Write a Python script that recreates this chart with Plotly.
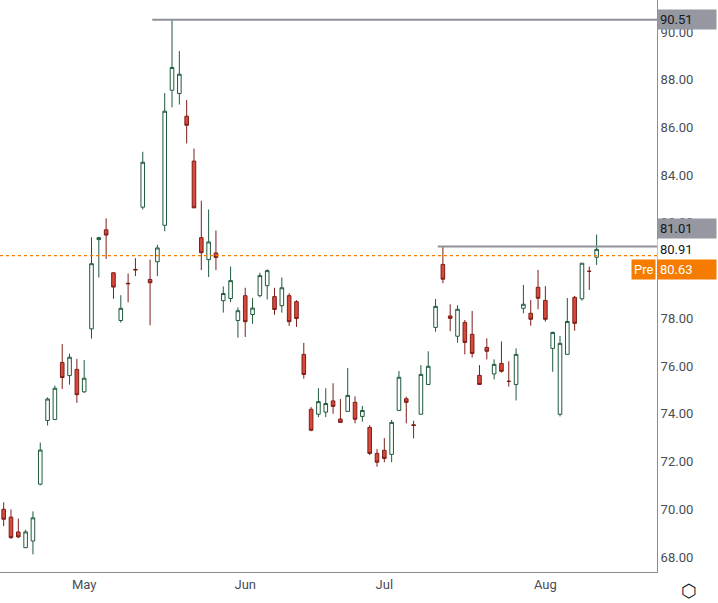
import pandas as pd
import plotly.graph_objects as go

# trading days, Apr 16 - Aug 12 2024 (US holidays skipped)
holidays = ["2024-05-27", "2024-06-19", "2024-07-04"]
days = [d.strftime("%Y-%m-%d") for d in pd.bdate_range("2024-04-16", "2024-08-12")
        if d.strftime("%Y-%m-%d") not in holidays]

opens = [70.00, 69.67, 69.05, 68.39, 68.67, 71.05, 73.72, 73.76, 76.15, 75.60,
         75.86, 74.92, 77.56, 81.30, 81.71, 79.91, 77.91, 79.47, 80.05, 82.66,
         79.63, 80.37, 81.90, 87.56, 87.42, 86.47, 84.59, 81.38, 80.46, 80.74,
         78.74, 78.83, 77.91, 78.95, 78.16, 78.95, 79.37, 78.91, 78.53, 78.95,
         78.70, 76.49, 74.19, 73.98, 74.07, 74.54, 73.78, 74.10, 74.48, 73.89,
         73.43, 72.34, 72.47, 72.30, 74.14, 74.63, 73.54, 73.98, 75.23, 77.62,
         80.26, 78.10, 77.25, 77.83, 77.33, 75.61, 76.78, 75.67, 76.11, 75.36,
         75.23, 78.42, 78.21, 79.30, 78.75, 76.74, 73.98, 76.49, 78.88, 78.82,
         79.97, 80.56]
highs = [70.29, 69.99, 69.61, 69.14, 69.91, 72.79, 74.69, 75.18, 76.92, 76.52,
         76.30, 76.25, 81.40, 81.42, 82.19, 79.91, 78.97, 79.88, 80.52, 84.98,
         80.46, 81.08, 87.44, 90.51, 89.20, 87.15, 85.11, 82.93, 82.56, 81.68,
         79.34, 80.17, 78.46, 79.28, 78.85, 79.91, 80.05, 79.28, 79.71, 79.05,
         78.76, 76.97, 74.28, 75.07, 75.07, 75.28, 74.62, 75.92, 74.73, 74.33,
         73.52, 72.52, 72.98, 73.74, 75.79, 74.72, 73.71, 76.04, 76.62, 78.81,
         81.01, 78.59, 78.55, 77.93, 78.31, 76.04, 77.16, 76.28, 77.03, 76.20,
         76.74, 79.40, 78.77, 80.03, 79.35, 77.44, 77.26, 78.85, 78.94, 80.31,
         80.17, 81.51]
lows = [69.29, 68.76, 68.79, 68.39, 68.11, 71.00, 73.51, 73.76, 75.04, 75.22,
        74.46, 74.88, 77.15, 79.71, 80.49, 78.82, 77.82, 78.67, 79.77, 82.56,
        77.71, 79.77, 81.65, 86.84, 86.96, 85.33, 82.63, 80.02, 79.73, 80.02,
        78.24, 78.68, 77.19, 77.22, 77.77, 78.88, 78.79, 78.15, 78.24, 77.68,
        77.64, 75.47, 73.27, 73.86, 73.86, 74.00, 73.64, 74.10, 73.60, 73.67,
        72.27, 71.78, 71.97, 71.97, 74.14, 73.60, 72.97, 73.98, 75.23, 77.44,
        79.47, 77.46, 76.98, 76.49, 76.36, 75.21, 76.28, 75.44, 75.72, 75.14,
        74.56, 78.21, 77.69, 78.38, 77.86, 75.76, 73.89, 76.49, 77.48, 78.74,
        79.19, 80.24]
closes = [69.58, 68.81, 68.84, 69.05, 69.64, 72.48, 74.62, 75.07, 75.52, 76.37,
          74.80, 75.49, 80.29, 81.38, 81.49, 79.31, 78.42, 79.45, 80.03, 84.54,
          79.49, 80.95, 86.68, 88.51, 88.23, 86.09, 82.63, 80.75, 81.20, 80.55,
          79.04, 79.58, 78.32, 77.86, 78.43, 79.79, 80.00, 78.37, 79.28, 77.86,
          77.99, 75.65, 73.31, 74.51, 74.43, 74.31, 73.64, 74.77, 73.77, 74.14,
          72.34, 71.97, 72.13, 73.64, 75.53, 74.48, 73.51, 75.65, 75.99, 78.50,
          79.64, 78.00, 78.38, 76.99, 76.53, 75.23, 76.62, 76.07, 75.78, 75.36,
          76.49, 78.59, 77.96, 78.84, 77.96, 77.41, 76.95, 77.87, 77.79, 80.31,
          79.97, 80.89]

month_ticks = ["2024-05-01", "2024-06-03", "2024-07-01", "2024-08-01"]
month_labels = ["May", "Jun", "Jul", "Aug"]
y_ticks = [68, 70, 72, 74, 76, 78, 82, 84, 86, 88, 90]

high_level = 90.51
res_level = 81.01
last_price = 80.91
pre_price = 80.63

n = len(days)
idx = list(range(n))

fig = go.Figure(go.Candlestick(
    x=idx, open=opens, high=highs, low=lows, close=closes, text=days,
    increasing=dict(line=dict(color="#1f5a3c", width=1), fillcolor="#ffffff"),
    decreasing=dict(line=dict(color="#7c1f18", width=1), fillcolor="#d9493b"),
    whiskerwidth=0, showlegend=False,
))

fig.add_shape(type="line", x0=days.index("2024-05-14") + 0.3, x1=n + 9, y0=high_level, y1=high_level,
              line=dict(color="#8e9199", width=2))
fig.add_shape(type="line", x0=days.index("2024-07-11") + 0.3, x1=n + 9, y0=res_level, y1=res_level,
              line=dict(color="#8e9199", width=2))
fig.add_shape(type="line", xref="paper", x0=0, x1=1, y0=pre_price, y1=pre_price,
              line=dict(color="#f57c00", width=1.2, dash="dot"))

def label(y, text, bg, fg, yshift=0):
    fig.add_annotation(xref="paper", x=1, y=y, yshift=yshift, text=text, showarrow=False,
                       xanchor="left", bgcolor=bg, font=dict(color=fg, size=13,
                       family="Roboto"), borderpad=2, width=54, align="left")

label(high_level, "90.51", "#9598a1", "#131722")
label(res_level, "81.01", "#9598a1", "#131722", yshift=18)
label(last_price, "80.91", "#ffffff", "#131722", yshift=-1)
label(pre_price, "80.63", "#f57c00", "#ffffff", yshift=-14)
fig.add_annotation(xref="paper", x=1, y=pre_price, yshift=-14, xshift=-1, text="Pre",
                   showarrow=False, xanchor="right", bgcolor="#f57c00",
                   font=dict(color="#ffffff", size=13, family="Roboto"), borderpad=2)
# settings icon, bottom right
fig.add_annotation(xref="paper", yref="paper", x=1, y=0, xshift=42, yshift=-32, text="⬡",
                   showarrow=False, yanchor="bottom", font=dict(color="#131722", size=18))

fig.update_layout(
    width=718, height=603, margin=dict(l=0, r=61, t=0, b=31, autoexpand=False),
    plot_bgcolor="white", paper_bgcolor="white",
    xaxis=dict(rangeslider=dict(visible=False), range=[-0.5, 89.25],
               tickvals=[days.index(d) for d in month_ticks], ticktext=month_labels,
               showgrid=False, zeroline=False, showline=True, linecolor="#8a8d94", ticks="",
               tickfont=dict(color="#4a4d55", size=13, family="Roboto")),
    yaxis=dict(side="right", range=[67.37, 91.34], tickvals=y_ticks,
               ticktext=[f"{v:.2f}" for v in y_ticks], showgrid=False, showline=True,
               linecolor="#8a8d94", ticks="", zeroline=False,
               tickfont=dict(color="#4a4d55", size=13, family="Roboto")),
)

fig.write_html("out.html", config={"displayModeBar": False},
               post_script="document.body.style.margin='0';")
